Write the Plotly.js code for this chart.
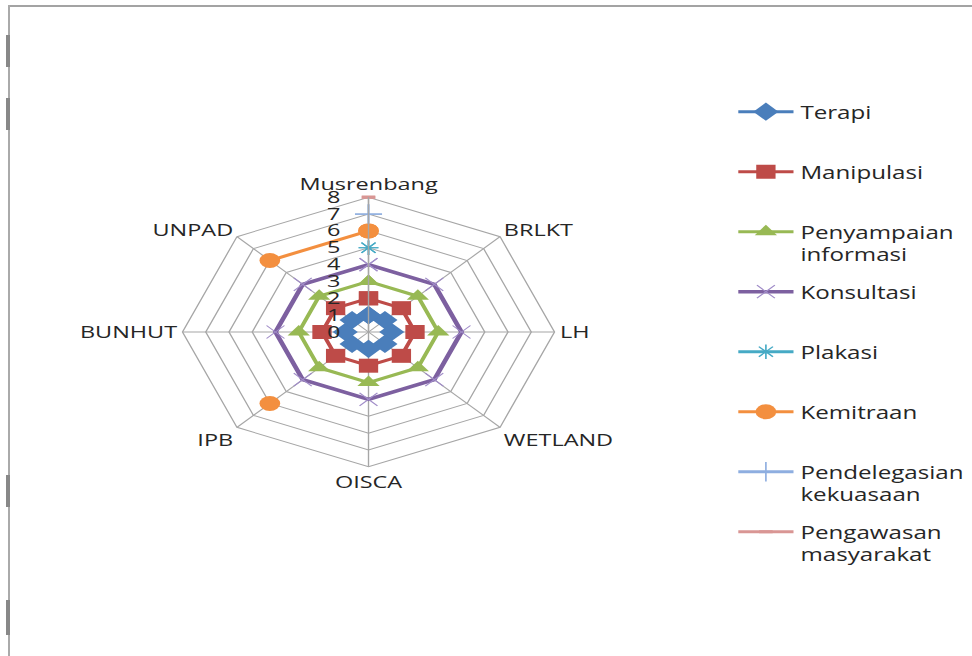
<!DOCTYPE html>
<html>
<head>
<meta charset="utf-8">
<script src="https://cdn.plot.ly/plotly-3.0.1.min.js"></script>
<style>
  html, body { margin: 0; padding: 0; background: #ffffff; }
  #wrap { position: relative; width: 972px; height: 656px; overflow: hidden; background: #ffffff; }
  #chart { position: absolute; left: 0; top: 0; width: 704px; height: 656px; transform: scaleX(1.38); transform-origin: 0 0; }
  .frame { position: absolute; }
</style>
</head>
<body>
<div id="wrap">
  <div id="chart"></div>
  <div class="frame" style="left:9px;top:5px;width:963px;height:2px;background:#a3a3a3;"></div>
  <div class="frame" style="left:8px;top:5px;width:2px;height:651px;background:#aaaaaa;"></div>
  <div class="frame" style="left:6px;top:35px;width:4px;height:32px;background:#888888;"></div>
  <div class="frame" style="left:6px;top:98px;width:4px;height:32px;background:#888888;"></div>
  <div class="frame" style="left:6px;top:475px;width:4px;height:32px;background:#888888;"></div>
  <div class="frame" style="left:6px;top:600px;width:4px;height:35px;background:#888888;"></div>
</div>
<script>
var categories = ['Musrenbang', 'BRLKT', 'LH', 'WETLAND', 'OISCA', 'IPB', 'BUNHUT', 'UNPAD'];
var radialTicks = [0, 1, 2, 3, 4, 5, 6, 7, 8];

var terapi        = [1, 1, 1, 1, 1, 1, 1, 1];
var manipulasi    = [2, 2, 2, 2, 2, 2, 2, 2];
var penyampaian   = [3, 3, 3, 3, 3, 3, 3, 3];
var konsultasi    = [4, 4, 4, 4, 4, 4, 4, 4];
var plakasi       = [5, null, null, null, null, null, null, null];
var kemitraan     = [6, null, null, null, null, 6, null, 6];
var pendelegasian = [7, null, null, null, null, null, null, null];
var pengawasan    = [8, null, null, null, null, null, null, null];

var seriesNames = ['Terapi<br> ', 'Manipulasi<br> ', 'Penyampaian<br>informasi', 'Konsultasi<br> ',
                   'Plakasi<br> ', 'Kemitraan<br> ', 'Pendelegasian<br>kekuasaan', 'Pengawasan<br>masyarakat'];
var seriesValues = [terapi, manipulasi, penyampaian, konsultasi, plakasi, kemitraan, pendelegasian, pengawasan];

var styles = [
  {line: {color: '#4a7ebb', width: 3}, marker: {symbol: 'diamond', size: 14, color: '#4a7ebb'}},
  {line: {color: '#be4b48', width: 3}, marker: {symbol: 'square', size: 14, color: '#be4b48'}},
  {line: {color: '#98b954', width: 3}, marker: {symbol: 'triangle-up', size: 14, color: '#98b954'}},
  {line: {color: '#7d60a0', width: 3.5}, marker: {symbol: 'x-thin-open', size: 13, color: '#a08cc8', line: {width: 1, color: '#a08cc8'}}},
  {line: {color: '#46aac5', width: 3}, marker: {symbol: 'asterisk-open', size: 12, color: '#46aac5', line: {width: 1.2, color: '#46aac5'}}},
  {line: {color: '#f38f3f', width: 3}, marker: {symbol: 'circle', size: 15, color: '#f38f3f'}},
  {line: {color: '#8eaee0', width: 3}, marker: {symbol: 'cross-thin-open', size: 14, color: '#8eaee0', line: {width: 1.2, color: '#8eaee0'}}},
  {line: {color: '#d99694', width: 3}, marker: {symbol: 'line-ew-open', size: 7, color: '#d99694', line: {width: 3, color: '#d99694'}}}
];

var thetaClosed = categories.concat([categories[0]]);
var traces = seriesValues.map(function (vals, i) {
  return {
    type: 'scatterpolar',
    mode: 'lines+markers',
    name: seriesNames[i],
    legendgroup: 'g' + i,
    r: vals.concat([vals[0]]),
    theta: thetaClosed,
    connectgaps: false,
    line: styles[i].line,
    marker: styles[i].marker,
    hoverinfo: 'skip'
  };
});

var textColor = '#262626';
var gridColor = '#a6a6a6';

var layout = {
  width: 704,
  height: 656,
  margin: {l: 0, r: 0, t: 0, b: 0},
  paper_bgcolor: 'rgba(0,0,0,0)',
  font: {family: 'Open Sans, sans-serif', size: 17, color: textColor},
  showlegend: true,
  legend: {
    x: 0.754, y: 0.857, xanchor: 'left', yanchor: 'top',
    valign: 'top',
    itemwidth: 40,
    tracegroupgap: 11.5,
    font: {family: 'Open Sans, sans-serif', size: 17.5, color: textColor},
    bgcolor: 'rgba(0,0,0,0)'
  },
  polar: {
    domain: {x: [0.1881, 0.5716], y: [0.2881, 0.6997]},
    bgcolor: 'rgba(0,0,0,0)',
    gridshape: 'linear',
    angularaxis: {
      type: 'category',
      categoryorder: 'array',
      categoryarray: categories,
      direction: 'clockwise',
      rotation: 90,
      showline: true,
      linecolor: gridColor,
      linewidth: 1,
      gridcolor: gridColor,
      ticks: '',
      layer: 'below traces',
      tickfont: {family: 'Open Sans, sans-serif', size: 17, color: textColor}
    },
    radialaxis: {
      range: [0, 8],
      tickvals: radialTicks,
      ticktext: radialTicks.map(String),
      angle: 90,
      tickangle: 90,
      side: 'counterclockwise',
      showline: true,
      linecolor: gridColor,
      gridcolor: gridColor,
      ticks: 'outside',
      ticklen: 14,
      tickcolor: 'rgba(0,0,0,0)',
      layer: 'above traces',
      tickfont: {family: 'Open Sans, sans-serif', size: 17, color: textColor}
    }
  }
};

Plotly.newPlot('chart', traces, layout, {staticPlot: true, displayModeBar: false});
</script>
</body>
</html>
